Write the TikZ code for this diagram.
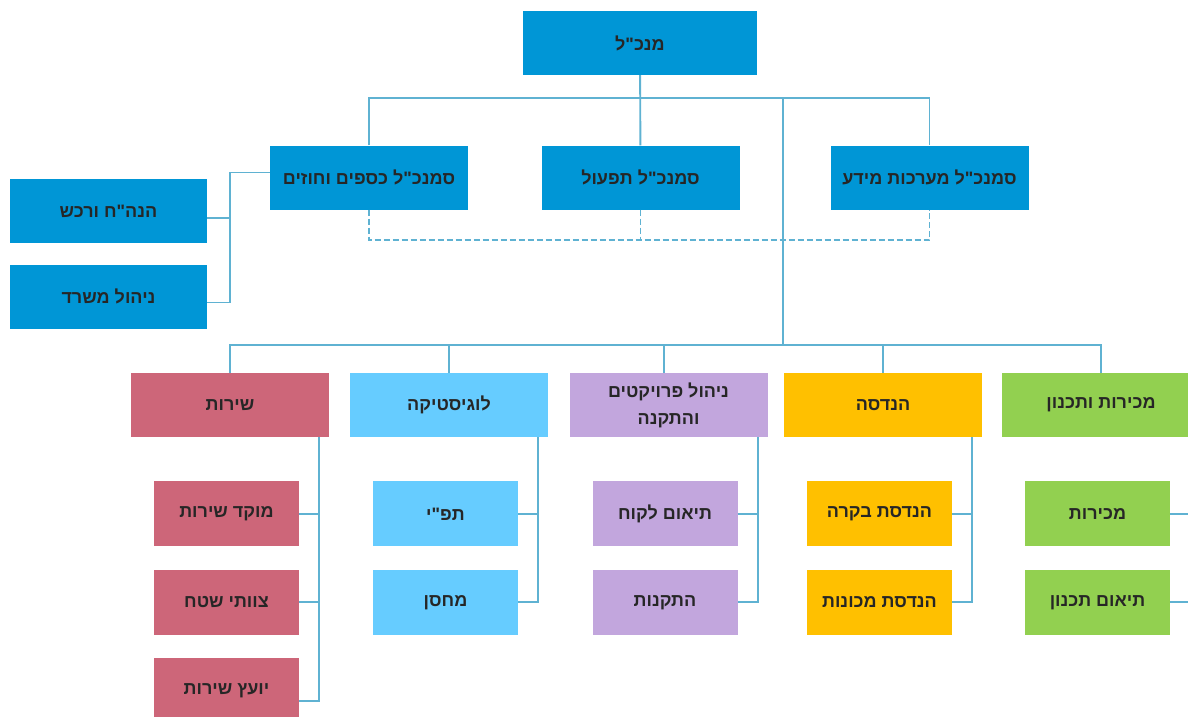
\documentclass[tikz,border=0pt]{standalone}
\usepackage{fontspec}
\usepackage{tikz}
\usetikzlibrary{positioning}
\TeXXeTstate=1
\newfontfamily\hebfont[Script=Hebrew]{Liberation Sans Bold}
\newcommand{\heb}[1]{\beginR #1\endR}
\definecolor{bossblue}{HTML}{0096D6}
\definecolor{sercol}{HTML}{CD6679}
\definecolor{logcol}{HTML}{66CCFF}
\definecolor{prjcol}{HTML}{C2A6DD}
\definecolor{engcol}{HTML}{FFC000}
\definecolor{salcol}{HTML}{92D050}
\definecolor{linkcol}{HTML}{5FB2D2}

\begin{document}
\begin{tikzpicture}[x=1pt, y=-1pt,
  every node/.style={font=\hebfont\fontsize{18}{27}\selectfont, text=black!85},
  deptbox/.style={minimum width=198pt, minimum height=64pt, inner sep=0pt, align=center},
  subbox/.style={minimum width=145pt, minimum height=65pt, inner sep=0pt},
  link/.style={draw=linkcol, line width=1.9pt},
  dashlink/.style={link, line width=1.6pt, dash pattern=on 6pt off 3pt}]
\useasboundingbox (0,0) rectangle (1188,717);
\clip (0,0) rectangle (1188,717);

% management
\node[deptbox, fill=bossblue, minimum width=234pt] (ceo) at (640,43) {\heb{מנכ"ל}};
\node[deptbox, fill=bossblue] (cfo) at (369,177.5) {\heb{סמנכ"ל כספים וחוזים}};
\node[deptbox, fill=bossblue] (coo) at (640.5,177.5) {\heb{סמנכ"ל תפעול}};
\node[deptbox, fill=bossblue] (cio) at (929.5,177.5) {\heb{סמנכ"ל מערכות מידע}};
\node[deptbox, fill=bossblue, minimum width=197pt] (acc) at (108.5,211) {\heb{הנה"ח ורכש}};
\node[deptbox, fill=bossblue, minimum width=197pt] (ofc) at (108.5,296.5) {\heb{ניהול משרד}};

% departments
\node[deptbox, fill=sercol] (ser) at (230,405) {\heb{שירות}};
\node[deptbox, fill=logcol] (log) at (449,405) {\heb{לוגיסטיקה}};
\node[deptbox, fill=prjcol] (prj) at (668.5,405) {\heb{ניהול פרויקטים}\\\heb{והתקנה}};
\node[deptbox, fill=engcol] (eng) at (883,405) {\heb{הנדסה}};
\node[deptbox, fill=salcol] (sal) at (1101,405) {\heb{מכירות ותכנון}};

\node[subbox, fill=sercol, below=44pt of ser, xshift=-3.5pt] (ser1) {\heb{מוקד שירות}};
\node[subbox, fill=sercol, below=23pt of ser1] (ser2) {\heb{צוותי שטח}};
\node[subbox, fill=sercol, below=23pt of ser2] (ser3) {\heb{יועץ שירות}};
\node[subbox, fill=logcol, below=44pt of log, xshift=-3.5pt] (log1) {\heb{תפ"י}};
\node[subbox, fill=logcol, below=23pt of log1] (log2) {\heb{מחסן}};
\node[subbox, fill=prjcol, below=44pt of prj, xshift=-3.5pt] (prj1) {\heb{תיאום לקוח}};
\node[subbox, fill=prjcol, below=23pt of prj1] (prj2) {\heb{התקנות}};
\node[subbox, fill=engcol, below=44pt of eng, xshift=-3.5pt] (eng1) {\heb{הנדסת בקרה}};
\node[subbox, fill=engcol, below=23pt of eng1] (eng2) {\heb{הנדסת מכונות}};
\node[subbox, fill=salcol, below=44pt of sal, xshift=-3.5pt] (sal1) {\heb{מכירות}};
\node[subbox, fill=salcol, below=23pt of sal1] (sal2) {\heb{תיאום תכנון}};

% connectors
\coordinate (topbus) at (0,98);
\coordinate (trunk) at (783,98);
\coordinate (midbus) at (783,345);
\coordinate (dashbus) at (0,240);
\coordinate (leftrail) at (230,0);

\draw[link] (ceo) -- (coo);
\draw[link] (cfo.north) -- (cfo.north |- topbus) -- (cio.north |- topbus) -- (cio.north);
\draw[dashlink] (cfo.south) |- (cio.south |- dashbus) -- (cio.south);
\draw[dashlink] (coo.south) -- (coo.south |- dashbus);

\coordinate (cfoin) at ([yshift=5pt]cfo.west);
\coordinate (accin) at ([yshift=-7pt]acc.east);
\coordinate (ofcin) at ([yshift=-6pt]ofc.east);
\draw[link] (cfoin) -- (cfoin -| leftrail) -- (ofcin -| leftrail) -- (ofcin);
\draw[link] (accin) -- (accin -| leftrail);

\draw[link] (trunk) -- (midbus);
\draw[link] (ser.north) |- (sal.north |- midbus) -- (sal.north);
\foreach \d in {log,eng}
  \draw[link] (\d.north) -- (\d.north |- midbus);
\draw[link] ([xshift=-4.5pt]prj.north) -- ([xshift=-4.5pt]prj.north |- midbus);

\foreach \d in {ser,log,prj,eng,sal}
  \coordinate (rail-\d) at ([xshift=-10pt]\d.south east);
\foreach \d in {log,prj,eng,sal} {
  \draw[link] (rail-\d) |- (\d2.east);
  \draw[link] (\d1.east) -- (\d1.east -| rail-\d);
}
\draw[link] (rail-ser) |- ([yshift=-10pt]ser3.east);
\draw[link] (ser1.east) -- (ser1.east -| rail-ser);
\draw[link] (ser2.east) -- (ser2.east -| rail-ser);
\end{tikzpicture}
\end{document}
